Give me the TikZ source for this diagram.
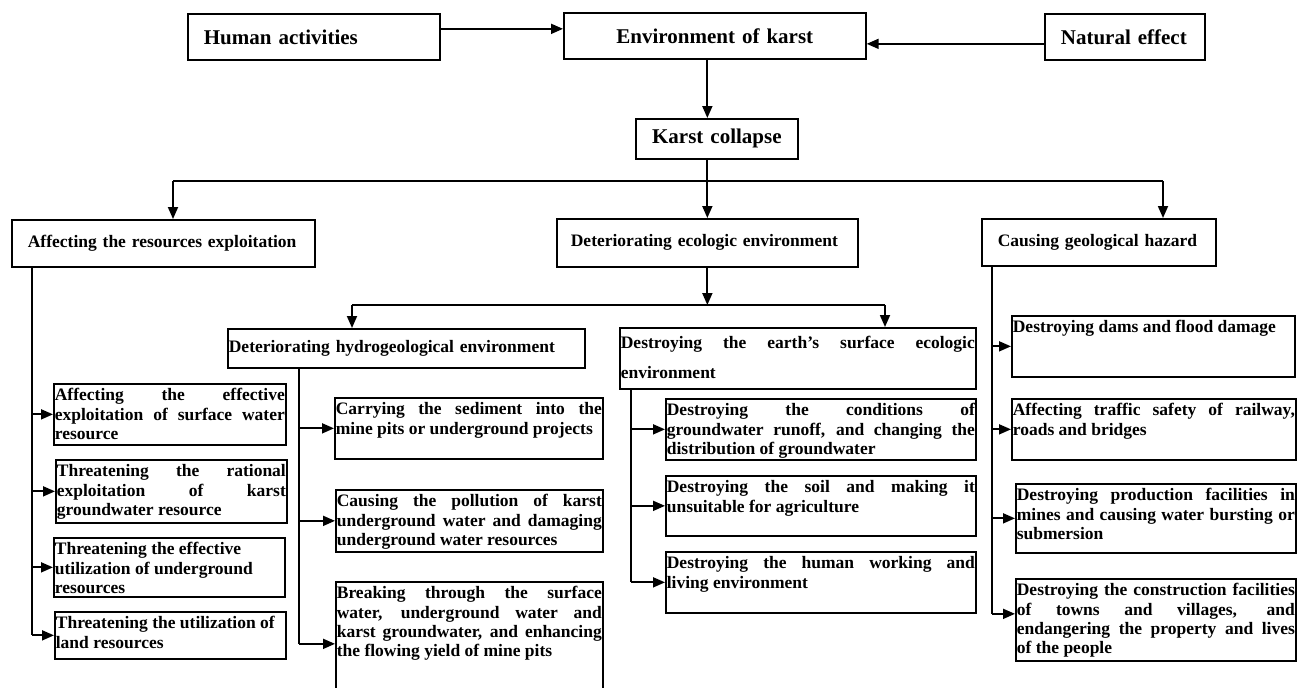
\documentclass[tikz,border=0pt]{standalone}
\usepackage{fontspec}
\setmainfont{Liberation Serif}
\usetikzlibrary{arrows.meta, positioning}

% text block of given width and height, text at the top
\newcommand{\cell}[3]{\parbox[t][#2][t]{#1}{\tolerance=10000\hyphenpenalty=10000\strut #3}}
\newcommand{\bigbf}{\fontsize{21}{24}\selectfont\bfseries}
\newcommand{\smallbf}{\fontsize{17.5}{19.3}\selectfont\bfseries}

\tikzset{
  lbl/.style={draw, line width=1.7pt, anchor=north west, inner ysep=0pt, align=left},
  cellbox/.style={draw, line width=1.7pt, anchor=north west, inner xsep=1pt, inner ysep=3.5pt, font=\smallbf},
}

\begin{document}
\begin{tikzpicture}[x=1pt, y=-1pt, >={Triangle[length=12pt,width=10pt]}, line width=1.8pt]
\fill[white] (0,0) rectangle (1304,688);
\useasboundingbox (0,0) rectangle (1304,688);
% top row
\node[lbl, font=\bigbf, inner xsep=16pt, text width=220pt, minimum height=46pt] (human) at (187,13) {Human activities};
\node[lbl, font=\bigbf, inner xsep=16pt, text width=270pt, minimum height=46pt, align=center] (env) at (563,12) {Environment of karst};
\node[lbl, font=\bigbf, inner xsep=16pt, text width=128pt, minimum height=46pt] (nat) at (1044,13) {Natural effect};
\node[lbl, font=\bigbf, inner xsep=16pt, text width=130pt, minimum height=40pt, align=center] (karst) at (635,118) {Karst collapse};
% second row
\node[lbl, font=\smallbf, inner xsep=16pt, text width=271pt, minimum height=47pt] (res) at (11,219) {Affecting the resources exploitation};
\node[lbl, font=\smallbf, inner xsep=14pt, text width=273pt, minimum height=48pt] (eco) at (556,218) {Deteriorating ecologic environment};
\node[lbl, font=\smallbf, inner xsep=16pt, text width=202pt, minimum height=47pt] (haz) at (981,218) {Causing geological hazard};
\node[lbl, font=\smallbf, inner xsep=1pt, text width=355pt, minimum height=39pt] (hydro) at (227,328) {Deteriorating hydrogeological environment};
\node[cellbox, inner ysep=7.5pt] (earth) at (619,327) {\cell{354pt}{46pt}{\baselineskip=30pt Destroying the earth’s surface ecologic\linebreak environment}};
% resources
\node[cellbox] (L1) at (53,383) {\cell{230pt}{54pt}{Affecting the effective\linebreak exploitation of surface water\linebreak resource}};
\node[cellbox] (L2) at (55,459) {\cell{229pt}{56pt}{Threatening the rational\linebreak exploitation of karst\linebreak groundwater resource}};
\node[cellbox] (L3) at (53,537) {\cell{229pt}{52pt}{Threatening the effective\\ utilization of underground\\ resources}};
\node[cellbox] (L4) at (54,611) {\cell{229pt}{40pt}{Threatening the utilization of\\ land resources}};
% hydrogeology
\node[cellbox] (H1) at (334,397) {\cell{266pt}{54pt}{Carrying the sediment into the\linebreak mine pits or underground projects}};
\node[cellbox] (H2) at (335,489) {\cell{265pt}{55pt}{Causing the pollution of karst\linebreak underground water and damaging\linebreak underground water resources}};
\node[cellbox] (H3) at (335,581) {\cell{265pt}{117pt}{Breaking through the surface\linebreak water, underground water and\linebreak karst groundwater, and enhancing\linebreak the flowing yield of mine pits}};
% earth surface
\node[cellbox] (E1) at (665,398) {\cell{308pt}{54pt}{Destroying the conditions of\linebreak groundwater runoff, and changing the\linebreak distribution of groundwater}};
\node[cellbox] (E2) at (665,475) {\cell{308pt}{53pt}{Destroying the soil and making it\linebreak unsuitable for agriculture}};
\node[cellbox] (E3) at (665,551) {\cell{308pt}{54pt}{Destroying the human working and\linebreak living environment}};
% hazards
\node[cellbox] (R1) at (1011,315) {\cell{281pt}{54pt}{Destroying dams and flood damage}};
\node[cellbox] (R2) at (1011,398) {\cell{282pt}{54pt}{Affecting traffic safety of railway,\linebreak roads and bridges}};
\node[cellbox] (R3) at (1015,483) {\cell{278pt}{62pt}{Destroying production facilities in\linebreak mines and causing water bursting or\linebreak submersion}};
\node[cellbox] (R4) at (1015,578) {\cell{278pt}{75pt}{Destroying the construction facilities\linebreak of towns and villages, and\linebreak endangering the property and lives\linebreak of the people}};
%
\draw[->] ([yshift=8pt]human.east) -- ([yshift=8pt]human.east -| env.west);
\draw[->] ([yshift=-7pt]nat.west) -- ([yshift=-7pt]nat.west -| env.east);
\draw[->] (env.south -| eco.north) -- (karst.north -| eco.north);
\draw[->] (karst.south -| eco.north) -- (eco.north);
\coordinate (b1l) at (173,181);
\coordinate (b1r) at (1163,181);
\draw (b1l) -- (b1r);
\draw[->] (b1l) -- (b1l |- res.north);
\draw[->] (b1r) -- (b1r |- haz.north);
\coordinate (b2l) at (352,305);
\coordinate (b2r) at (885,305);
\draw[->] (eco.south) -- (eco.south |- b2l);
\draw (b2l) -- (b2r);
\draw[->] (b2l) -- (b2l |- hydro.north);
\draw[->] (b2r) -- (b2r |- earth.north);
% branches
\coordinate (t1) at ([xshift=21pt]res.south west);
\draw (t1) -- (t1 |- L4.west);
\foreach \b in {L1,L2,L3,L4} \draw[->] (t1 |- \b.west) -- (\b.west);
\coordinate (t2) at ([xshift=72pt]hydro.south west);
\draw (t2) -- (t2 |- H3.west);
\foreach \b in {H1,H2,H3} \draw[->] (t2 |- \b.west) -- (\b.west);
\coordinate (t3) at ([xshift=12pt]earth.south west);
\draw (t3) -- (t3 |- E3.west);
\foreach \b in {E1,E2,E3} \draw[->] (t3 |- \b.west) -- (\b.west);
\coordinate (t4) at ([xshift=11pt]haz.south west);
\coordinate (r4in) at ([yshift=6pt]R4.west);
\draw (t4) -- (t4 |- r4in);
\foreach \b in {R1,R2,R3} \draw[->] (t4 |- \b.west) -- (\b.west);
\draw[->] (t4 |- r4in) -- (r4in);
\end{tikzpicture}
\end{document}
